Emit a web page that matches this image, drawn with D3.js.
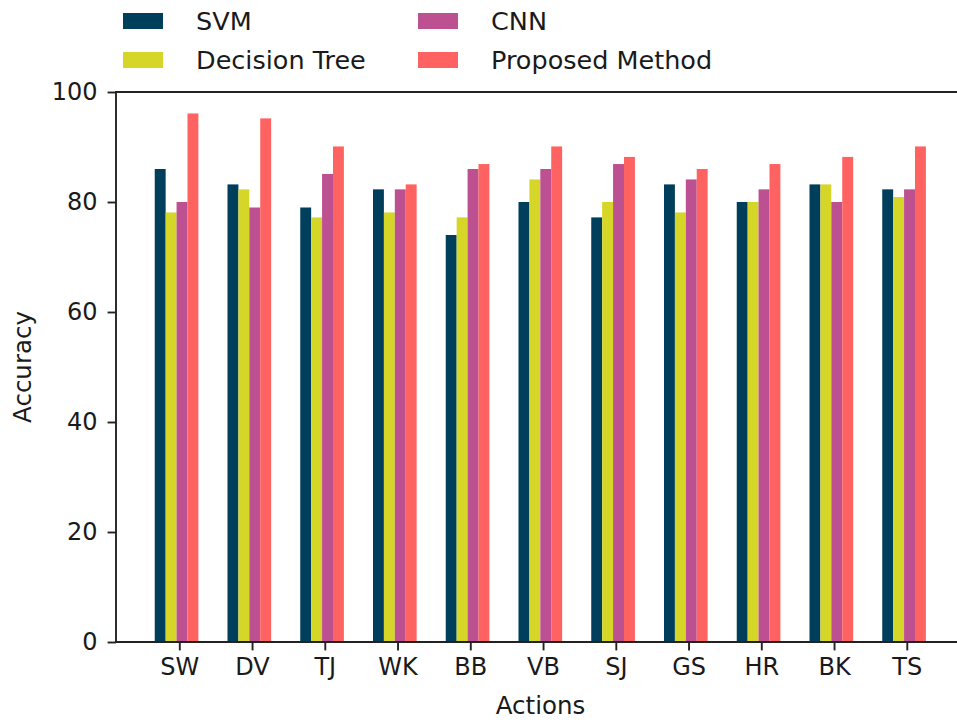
<!DOCTYPE html>
<html>
<head>
<meta charset="utf-8">
<script src="https://cdn.jsdelivr.net/npm/d3@7"></script>
<style>
  html, body { margin: 0; padding: 0; background: #fff; }
  svg { display: block; }
  text { font-family: "DejaVu Sans", sans-serif; fill: #1a1a1a; }
</style>
</head>
<body>
<svg id="chart" width="957" height="722"></svg>
<script>
const categories = ["SW", "DV", "TJ", "WK", "BB", "VB", "SJ", "GS", "HR", "BK", "TS"];
const seriesNames = ["SVM", "Decision Tree", "CNN", "Proposed Method"];
const svmValues = [86, 83.2, 79, 82.3, 74, 80, 77.2, 83.2, 80, 83.2, 82.3];
const decisionTreeValues = [78.1, 82.3, 77.2, 78.1, 77.2, 84.1, 80, 78.1, 80, 83.2, 80.9];
const cnnValues = [80, 79, 85.1, 82.3, 86, 86, 86.9, 84.1, 82.3, 80, 82.3];
const proposedValues = [96.1, 95.2, 90.1, 83.2, 86.9, 90.1, 88.2, 86, 86.9, 88.2, 90.1];
const seriesColors = ["#003f5c", "#d6d629", "#bc5090", "#ff6361"];
const yTicks = [0, 20, 40, 60, 80, 100];

const series = [svmValues, decisionTreeValues, cnnValues, proposedValues];

const svg = d3.select("#chart");
const fontSize = 24;
const legendFontSize = 25.5;
const plotLeft = 116, plotRight = 965, plotTop = 92, plotBottom = 642;

const x = d3.scaleLinear().domain([-0.870, 10.80]).range([plotLeft, plotRight]);
const y = d3.scaleLinear().domain([0, 100]).range([plotBottom, plotTop]);
const barW = 0.15;

// bars
series.forEach((vals, si) => {
  svg.append("g")
    .selectAll("rect")
    .data(vals)
    .join("rect")
    .attr("x", (d, i) => x(i + (si - 2.25) * barW))
    .attr("width", (d, i) => x(i + (si - 1.25) * barW) - x(i + (si - 2.25) * barW))
    .attr("y", d => y(d))
    .attr("height", d => y(0) - y(d))
    .attr("fill", seriesColors[si]);
});

// axes
const xAxis = d3.axisBottom(x)
  .tickValues(d3.range(categories.length))
  .tickFormat(i => categories[i])
  .tickSize(8.4)
  .tickPadding(8);
const gx = svg.append("g").attr("transform", `translate(0,${plotBottom})`).call(xAxis);
gx.select(".domain").remove();
gx.selectAll(".tick line").attr("stroke", "#222").attr("stroke-width", 1.9);
gx.selectAll(".tick text").attr("font-size", fontSize).attr("fill", "#1a1a1a")
  .attr("font-family", "DejaVu Sans, sans-serif");

const yAxis = d3.axisLeft(y)
  .tickValues(yTicks)
  .tickSize(8.4)
  .tickPadding(10);
const gy = svg.append("g").attr("transform", `translate(${plotLeft},0)`).call(yAxis);
gy.select(".domain").remove();
gy.selectAll(".tick line").attr("stroke", "#222").attr("stroke-width", 1.9);
gy.selectAll(".tick text").attr("font-size", fontSize).attr("fill", "#1a1a1a")
  .attr("font-family", "DejaVu Sans, sans-serif");

// spines
const spine = svg.append("g").attr("stroke", "#222").attr("stroke-width", 1.9).attr("fill", "none");
spine.append("line").attr("x1", plotLeft).attr("x2", plotLeft).attr("y1", plotTop).attr("y2", plotBottom);
spine.append("line").attr("x1", plotLeft - 1).attr("x2", plotRight).attr("y1", plotBottom).attr("y2", plotBottom);
spine.append("line").attr("x1", plotLeft - 1).attr("x2", plotRight).attr("y1", plotTop).attr("y2", plotTop);
spine.append("line").attr("x1", plotRight).attr("x2", plotRight).attr("y1", plotTop).attr("y2", plotBottom);

// axis labels
svg.append("text")
  .attr("x", (plotLeft + plotRight) / 2)
  .attr("y", 714)
  .attr("text-anchor", "middle")
  .attr("font-size", 24.5)
  .text("Actions");

svg.append("text")
  .attr("transform", `translate(31,${(plotTop + plotBottom) / 2}) rotate(-90)`)
  .attr("text-anchor", "middle")
  .attr("font-size", 24.5)
  .text("Accuracy");

// legend (2 columns, column-major)
const legendPos = [
  { hx: 123, ty: 21 }, { hx: 123, ty: 60 },
  { hx: 418, ty: 21 }, { hx: 418, ty: 60 }
];
const lg = svg.append("g");
seriesNames.forEach((name, i) => {
  const p = legendPos[i];
  lg.append("rect")
    .attr("x", p.hx).attr("y", p.ty - 8)
    .attr("width", 40).attr("height", 16)
    .attr("fill", seriesColors[i]);
  lg.append("text")
    .attr("x", p.hx + 73).attr("y", p.ty + 9)
    .attr("font-size", legendFontSize)
    .text(name);
});
</script>
</body>
</html>
